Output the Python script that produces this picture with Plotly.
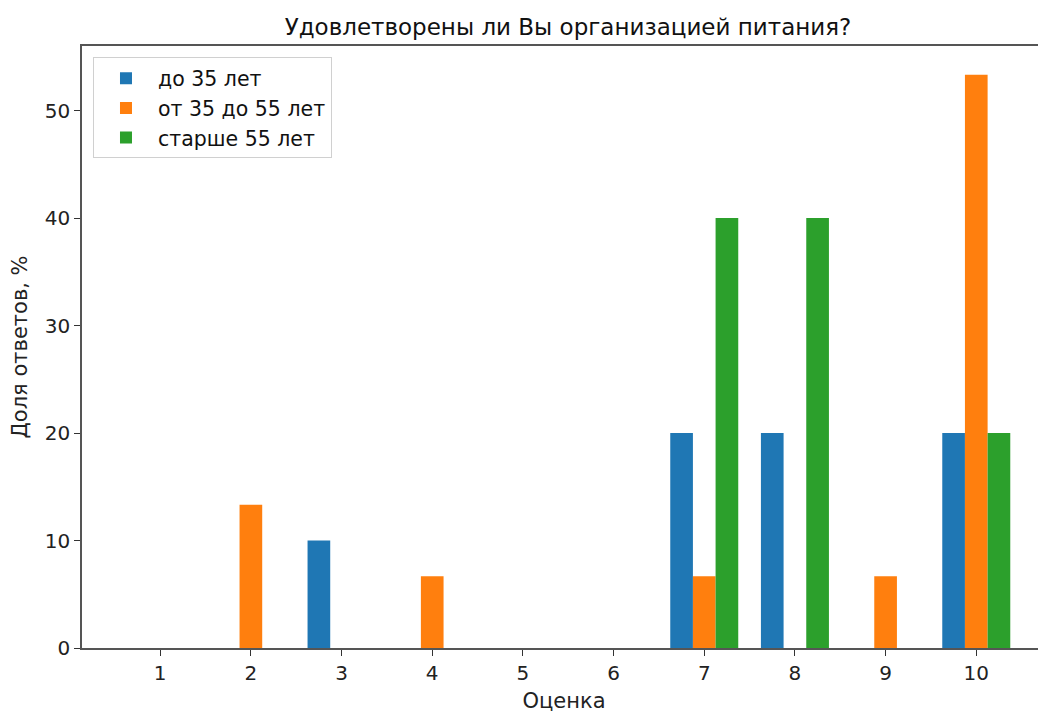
import plotly.graph_objects as go

scores = [1, 2, 3, 4, 5, 6, 7, 8, 9, 10]
tick_labels = ["1", "2", "3", "4", "5", "6", "7", "8", "9", "10"]
under_35 = [0, 0, 10, 0, 0, 0, 20, 20, 0, 20]
from_35_to_55 = [0, 13.33, 0, 6.67, 0, 0, 6.67, 0, 6.67, 53.33]
over_55 = [0, 0, 0, 0, 0, 0, 40, 40, 0, 20]

series = [
    ("до 35 лет", under_35, "#1f77b4", -0.375),
    ("от 35 до 55 лет", from_35_to_55, "#ff7f0e", -0.125),
    ("старше 55 лет", over_55, "#2ca02c", 0.125),
]

FONT = "DejaVu Sans"
W, H = 1038, 705
fig = go.Figure()
for name, vals, color, off in series:
    fig.add_trace(go.Bar(
        x=scores, y=vals, name=name, width=0.25, offset=off,
        marker=dict(color=color, line=dict(width=0)),
    ))

fig.update_layout(
    width=W, height=H,
    barmode="overlay",
    paper_bgcolor="white", plot_bgcolor="white",
    margin=dict(l=74, r=0, t=38, b=65, autoexpand=False),
    font=dict(family=FONT, size=20, color="#222"),
    title=dict(text="Удовлетворены ли Вы организацией питания?",
               x=560 / W, xanchor="center",
               y=1 - 19 / H, yanchor="middle", automargin=False,
               font=dict(family=FONT, size=23, color="#111")),
    legend=dict(x=0.0114, y=0.981, xanchor="left", yanchor="top",
                bgcolor="white", bordercolor="#d0d0d0", borderwidth=1,
                itemwidth=54, tracegroupgap=0,
                font=dict(family=FONT, size=20.5, color="#111")),
    showlegend=True,
    xaxis=dict(range=[0.1375, 10.769], tickmode="array", tickvals=scores,
               ticktext=tick_labels, showgrid=False, zeroline=False,
               automargin=False, tickfont=dict(size=20),
               showline=True, linecolor="#555", linewidth=1.5, mirror=True,
               ticks="outside", ticklen=6, tickcolor="#333",
               title=dict(text="Оценка", standoff=14,
                          font=dict(family=FONT, size=21, color="#222"))),
    yaxis=dict(range=[0, 56.0], tickvals=[0, 10, 20, 30, 40, 50],
               showgrid=False, zeroline=False, automargin=False,
               tickfont=dict(size=20),
               showline=True, linecolor="#555", linewidth=1.5, mirror=False,
               ticks="outside", ticklen=6, tickcolor="#333",
               title=dict(text="Доля ответов, %", standoff=12,
                          font=dict(family=FONT, size=21, color="#222"))),
)

fig.write_html("out.html")
